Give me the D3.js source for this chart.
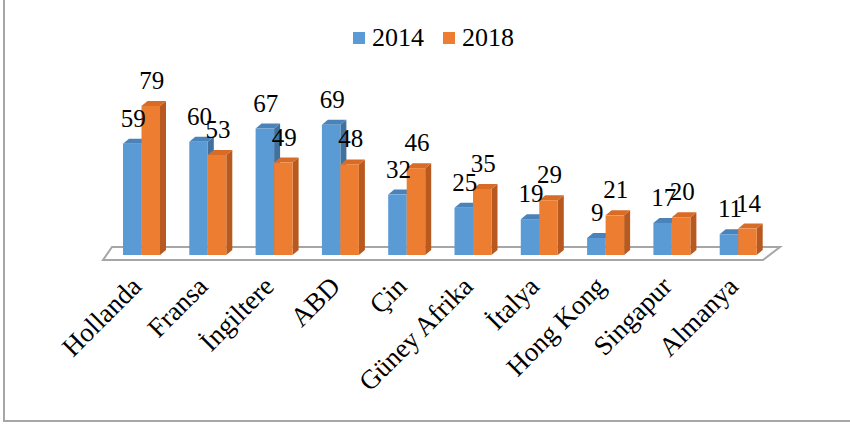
<!DOCTYPE html>
<html>
<head>
<meta charset="utf-8">
<script src="https://cdn.jsdelivr.net/npm/d3@7"></script>
<style>
  body { margin: 0; background: #fff; }
  svg text { font-family: "Liberation Serif", "Times New Roman", serif; fill: #000; }
</style>
</head>
<body>
<svg id="chart" width="850" height="424"></svg>
<script>
// veriler
const countries = ["Hollanda", "Fransa", "İngiltere", "ABD", "Çin", "Güney Afrika", "İtalya", "Hong Kong", "Singapur", "Almanya"];
const years = ["2014", "2018"];
const values2014 = [59, 60, 67, 69, 32, 25, 19, 9, 17, 11];
const values2018 = [79, 53, 49, 48, 46, 35, 29, 21, 20, 14];

const svg = d3.select("#chart");
const W = +svg.attr("width");
const H = +svg.attr("height");

// renkler: ön, üst, yan
const faces = {
  "2014": { front: "#5B9BD5", top: "#4A82BA", side: "#41719C" },
  "2018": { front: "#ED7D31", top: "#D86C26", side: "#B85A1F" }
};

// çerçeve
svg.append("rect")
  .attr("x", 4).attr("y", -2)
  .attr("width", W + 2).attr("height", 423)
  .attr("fill", "#fff")
  .attr("stroke", "#A6A6A6")
  .attr("stroke-width", 2);

const x = d3.scaleBand().domain(countries).range([103, 766]);
const xs = d3.scaleBand().domain(years).range([20, 57]);
const y = d3.scaleLinear().domain([0, 80]).range([255, 104]);

const dx = 6, dy = 5;
const bw = xs.bandwidth();

// zemin
svg.append("polygon")
  .attr("points", [[103, 260], [763, 260], [780, 247], [112, 247]].map(p => p.join(",")).join(" "))
  .attr("fill", "#fff")
  .attr("stroke", "#A6A6A6")
  .attr("stroke-width", 2);

const data = [];
countries.forEach((c, i) => {
  data.push({ c, year: "2014", v: values2014[i] });
  data.push({ c, year: "2018", v: values2018[i] });
});

const bars = svg.append("g").selectAll("g")
  .data(data)
  .enter()
  .append("g");

bars.each(function (d) {
  const g = d3.select(this);
  const x0 = x(d.c) + xs(d.year);
  const yt = y(d.v);
  const yb = y(0);
  const f = faces[d.year];
  // yan yüz
  g.append("polygon")
    .attr("points", [[x0 + bw, yt], [x0 + bw + dx, yt - dy], [x0 + bw + dx, yb - dy], [x0 + bw, yb]].map(p => p.join(",")).join(" "))
    .attr("fill", f.side);
  // üst yüz
  g.append("polygon")
    .attr("points", [[x0, yt], [x0 + dx, yt - dy], [x0 + bw + dx, yt - dy], [x0 + bw, yt]].map(p => p.join(",")).join(" "))
    .attr("fill", f.top);
  // ön yüz
  g.append("rect")
    .attr("x", x0).attr("y", yt)
    .attr("width", bw).attr("height", yb - yt)
    .attr("fill", f.front);
});

// değer etiketleri
svg.append("g").selectAll("text")
  .data(data)
  .enter()
  .append("text")
  .attr("x", d => x(d.c) + xs(d.year) + bw / 2 + 1)
  .attr("y", d => y(d.v) - 17)
  .attr("text-anchor", "middle")
  .style("font-size", "25px")
  .text(d => d.v);

// ülke etiketleri
svg.append("g").selectAll("text")
  .data(countries)
  .enter()
  .append("text")
  .attr("transform", d => `translate(${x(d) + 40},288) rotate(-45)`)
  .attr("text-anchor", "end")
  .style("font-size", "27px")
  .text(d => d);

// lejant
const legend = svg.append("g");
const legX = [353, 443];
years.forEach((yr, i) => {
  legend.append("rect")
    .attr("x", legX[i]).attr("y", 32)
    .attr("width", 12).attr("height", 12)
    .attr("fill", faces[yr].front);
  legend.append("text")
    .attr("x", legX[i] + 19).attr("y", 46)
    .style("font-size", "26px")
    .text(yr);
});
</script>
</body>
</html>
